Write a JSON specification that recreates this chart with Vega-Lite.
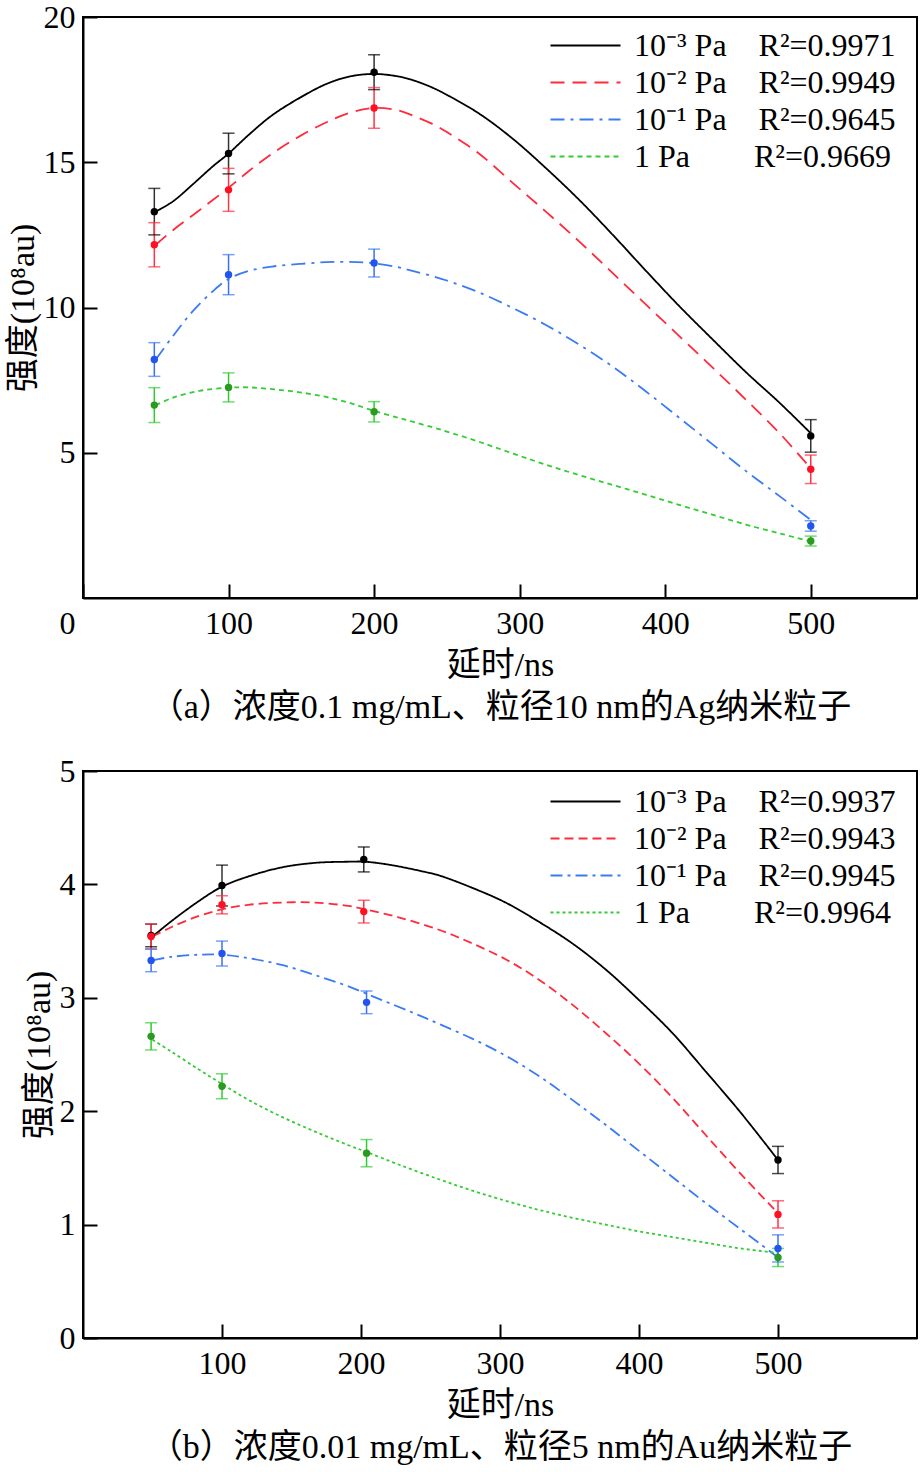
{
  "$schema": "https://vega.github.io/schema/vega-lite/v6.json",
  "background": "white",
  "padding": {"left": 5, "top": 0, "right": 4, "bottom": 5},
  "config": {
    "font": "Liberation Serif, Noto Sans CJK SC",
    "view": {"stroke": "black", "strokeWidth": 2},
    "axis": {
      "grid": false,
      "domainColor": "black",
      "domainWidth": 2,
      "tickColor": "black",
      "tickWidth": 2,
      "tickSize": -14,
      "labelPadding": 24,
      "labelFlush": false,
      "labelFont": "Liberation Serif",
      "labelFontSize": 32,
      "labelColor": "black",
      "titleFont": "Liberation Serif, Noto Sans CJK SC",
      "titleFontSize": 34,
      "titleFontWeight": "normal",
      "titleColor": "black"
    },
    "legend": {
      "orient": "none",
      "title": null,
      "symbolType": "M-2,0H2",
      "symbolSize": 1225,
      "symbolStrokeWidth": 2,
      "labelFont": "Liberation Serif",
      "labelFontSize": 32,
      "labelColor": "black",
      "labelOffset": 30,
      "rowPadding": 2,
      "labelLimit": 400
    }
  },
  "datasets": {
    "fitA": [
      {"k": "k3", "x": 50, "y": 13.3}, {"k": "k3", "x": 62, "y": 13.66}, {"k": "k3", "x": 75, "y": 14.22},
      {"k": "k3", "x": 89, "y": 14.85}, {"k": "k3", "x": 100, "y": 15.3}, {"k": "k3", "x": 114, "y": 15.95},
      {"k": "k3", "x": 130, "y": 16.62}, {"k": "k3", "x": 149, "y": 17.22}, {"k": "k3", "x": 167, "y": 17.69},
      {"k": "k3", "x": 183, "y": 17.95}, {"k": "k3", "x": 200, "y": 18.04}, {"k": "k3", "x": 217, "y": 17.95},
      {"k": "k3", "x": 227, "y": 17.82}, {"k": "k3", "x": 240, "y": 17.57}, {"k": "k3", "x": 250, "y": 17.32},
      {"k": "k3", "x": 272, "y": 16.68}, {"k": "k3", "x": 295, "y": 15.82}, {"k": "k3", "x": 318, "y": 14.8},
      {"k": "k3", "x": 341, "y": 13.7}, {"k": "k3", "x": 364, "y": 12.5}, {"k": "k3", "x": 387, "y": 11.25},
      {"k": "k3", "x": 410, "y": 10.03}, {"k": "k3", "x": 433, "y": 8.88}, {"k": "k3", "x": 456, "y": 7.75},
      {"k": "k3", "x": 479, "y": 6.7}, {"k": "k3", "x": 500, "y": 5.67},
      {"k": "k2", "x": 50, "y": 12.16}, {"k": "k2", "x": 62, "y": 12.67}, {"k": "k2", "x": 80, "y": 13.35},
      {"k": "k2", "x": 100, "y": 14.12}, {"k": "k2", "x": 114, "y": 14.7}, {"k": "k2", "x": 130, "y": 15.3},
      {"k": "k2", "x": 149, "y": 15.9}, {"k": "k2", "x": 167, "y": 16.37}, {"k": "k2", "x": 183, "y": 16.7},
      {"k": "k2", "x": 200, "y": 16.87}, {"k": "k2", "x": 217, "y": 16.78}, {"k": "k2", "x": 227, "y": 16.6},
      {"k": "k2", "x": 240, "y": 16.32}, {"k": "k2", "x": 250, "y": 16.04}, {"k": "k2", "x": 272, "y": 15.3},
      {"k": "k2", "x": 295, "y": 14.3}, {"k": "k2", "x": 318, "y": 13.3}, {"k": "k2", "x": 341, "y": 12.27},
      {"k": "k2", "x": 364, "y": 11.18}, {"k": "k2", "x": 387, "y": 10.09}, {"k": "k2", "x": 410, "y": 9.0},
      {"k": "k2", "x": 433, "y": 7.91}, {"k": "k2", "x": 456, "y": 6.8}, {"k": "k2", "x": 479, "y": 5.65},
      {"k": "k2", "x": 500, "y": 4.46},
      {"k": "k1", "x": 50, "y": 8.21}, {"k": "k1", "x": 62, "y": 9.03}, {"k": "k1", "x": 75, "y": 9.85},
      {"k": "k1", "x": 89, "y": 10.55}, {"k": "k1", "x": 100, "y": 10.98}, {"k": "k1", "x": 114, "y": 11.26},
      {"k": "k1", "x": 130, "y": 11.41}, {"k": "k1", "x": 149, "y": 11.5}, {"k": "k1", "x": 167, "y": 11.56},
      {"k": "k1", "x": 183, "y": 11.57}, {"k": "k1", "x": 200, "y": 11.52}, {"k": "k1", "x": 217, "y": 11.38},
      {"k": "k1", "x": 227, "y": 11.25}, {"k": "k1", "x": 240, "y": 11.08}, {"k": "k1", "x": 250, "y": 10.93},
      {"k": "k1", "x": 272, "y": 10.52}, {"k": "k1", "x": 295, "y": 9.99}, {"k": "k1", "x": 318, "y": 9.4},
      {"k": "k1", "x": 341, "y": 8.72}, {"k": "k1", "x": 364, "y": 7.96}, {"k": "k1", "x": 387, "y": 7.1},
      {"k": "k1", "x": 410, "y": 6.19}, {"k": "k1", "x": 433, "y": 5.27}, {"k": "k1", "x": 456, "y": 4.35},
      {"k": "k1", "x": 479, "y": 3.49}, {"k": "k1", "x": 500, "y": 2.69},
      {"k": "k0", "x": 50, "y": 6.64}, {"k": "k0", "x": 62, "y": 6.9}, {"k": "k0", "x": 80, "y": 7.13},
      {"k": "k0", "x": 100, "y": 7.24}, {"k": "k0", "x": 114, "y": 7.25}, {"k": "k0", "x": 130, "y": 7.19},
      {"k": "k0", "x": 149, "y": 7.08}, {"k": "k0", "x": 167, "y": 6.92}, {"k": "k0", "x": 183, "y": 6.72},
      {"k": "k0", "x": 200, "y": 6.44}, {"k": "k0", "x": 217, "y": 6.2}, {"k": "k0", "x": 227, "y": 6.06},
      {"k": "k0", "x": 240, "y": 5.88}, {"k": "k0", "x": 250, "y": 5.73}, {"k": "k0", "x": 272, "y": 5.38},
      {"k": "k0", "x": 295, "y": 4.98}, {"k": "k0", "x": 318, "y": 4.59}, {"k": "k0", "x": 341, "y": 4.23},
      {"k": "k0", "x": 364, "y": 3.89}, {"k": "k0", "x": 387, "y": 3.55}, {"k": "k0", "x": 410, "y": 3.2},
      {"k": "k0", "x": 433, "y": 2.86}, {"k": "k0", "x": 456, "y": 2.52}, {"k": "k0", "x": 479, "y": 2.22},
      {"k": "k0", "x": 500, "y": 1.94}
    ],
    "ptsA": [
      {"k": "k0", "x": 49, "y": 6.64, "lo": 6.04, "hi": 7.24},
      {"k": "k0", "x": 100, "y": 7.25, "lo": 6.75, "hi": 7.75},
      {"k": "k0", "x": 200, "y": 6.41, "lo": 6.06, "hi": 6.76},
      {"k": "k0", "x": 500, "y": 1.96, "lo": 1.79, "hi": 2.13},
      {"k": "k1", "x": 49, "y": 8.21, "lo": 7.63, "hi": 8.79},
      {"k": "k1", "x": 100, "y": 11.13, "lo": 10.44, "hi": 11.82},
      {"k": "k1", "x": 200, "y": 11.53, "lo": 11.05, "hi": 12.01},
      {"k": "k1", "x": 500, "y": 2.48, "lo": 2.3, "hi": 2.66},
      {"k": "k3", "x": 49, "y": 13.3, "lo": 12.5, "hi": 14.1},
      {"k": "k3", "x": 100, "y": 15.3, "lo": 14.6, "hi": 16.0},
      {"k": "k3", "x": 200, "y": 18.1, "lo": 17.5, "hi": 18.7},
      {"k": "k3", "x": 500, "y": 5.58, "lo": 5.02, "hi": 6.14},
      {"k": "k2", "x": 49, "y": 12.16, "lo": 11.4, "hi": 12.92},
      {"k": "k2", "x": 100, "y": 14.05, "lo": 13.31, "hi": 14.79},
      {"k": "k2", "x": 200, "y": 16.87, "lo": 16.17, "hi": 17.57},
      {"k": "k2", "x": 500, "y": 4.43, "lo": 3.94, "hi": 4.92}
    ],
    "fitB": [
      {"k": "k3", "x": 50, "y": 3.54}, {"k": "k3", "x": 63, "y": 3.67}, {"k": "k3", "x": 83, "y": 3.85},
      {"k": "k3", "x": 100, "y": 3.98}, {"k": "k3", "x": 119, "y": 4.07}, {"k": "k3", "x": 143, "y": 4.15},
      {"k": "k3", "x": 167, "y": 4.19}, {"k": "k3", "x": 191, "y": 4.2}, {"k": "k3", "x": 203, "y": 4.2},
      {"k": "k3", "x": 222, "y": 4.17}, {"k": "k3", "x": 246, "y": 4.11}, {"k": "k3", "x": 256, "y": 4.08},
      {"k": "k3", "x": 280, "y": 3.97}, {"k": "k3", "x": 304, "y": 3.84}, {"k": "k3", "x": 328, "y": 3.67},
      {"k": "k3", "x": 352, "y": 3.48}, {"k": "k3", "x": 376, "y": 3.25}, {"k": "k3", "x": 400, "y": 2.98},
      {"k": "k3", "x": 424, "y": 2.69}, {"k": "k3", "x": 448, "y": 2.35}, {"k": "k3", "x": 473, "y": 1.99},
      {"k": "k3", "x": 500, "y": 1.57},
      {"k": "k2", "x": 50, "y": 3.54}, {"k": "k2", "x": 63, "y": 3.62}, {"k": "k2", "x": 83, "y": 3.72},
      {"k": "k2", "x": 100, "y": 3.78}, {"k": "k2", "x": 119, "y": 3.82}, {"k": "k2", "x": 143, "y": 3.84},
      {"k": "k2", "x": 167, "y": 3.84}, {"k": "k2", "x": 191, "y": 3.81}, {"k": "k2", "x": 203, "y": 3.78},
      {"k": "k2", "x": 227, "y": 3.71}, {"k": "k2", "x": 256, "y": 3.6}, {"k": "k2", "x": 280, "y": 3.48},
      {"k": "k2", "x": 304, "y": 3.34}, {"k": "k2", "x": 328, "y": 3.16}, {"k": "k2", "x": 352, "y": 2.94},
      {"k": "k2", "x": 376, "y": 2.69}, {"k": "k2", "x": 400, "y": 2.42}, {"k": "k2", "x": 424, "y": 2.12},
      {"k": "k2", "x": 448, "y": 1.79}, {"k": "k2", "x": 473, "y": 1.45}, {"k": "k2", "x": 500, "y": 1.1},
      {"k": "k1", "x": 50, "y": 3.33}, {"k": "k1", "x": 63, "y": 3.36}, {"k": "k1", "x": 83, "y": 3.38},
      {"k": "k1", "x": 100, "y": 3.38}, {"k": "k1", "x": 119, "y": 3.35}, {"k": "k1", "x": 143, "y": 3.29},
      {"k": "k1", "x": 167, "y": 3.2}, {"k": "k1", "x": 191, "y": 3.1}, {"k": "k1", "x": 215, "y": 2.98},
      {"k": "k1", "x": 239, "y": 2.86}, {"k": "k1", "x": 256, "y": 2.77}, {"k": "k1", "x": 280, "y": 2.64},
      {"k": "k1", "x": 304, "y": 2.49}, {"k": "k1", "x": 328, "y": 2.31}, {"k": "k1", "x": 352, "y": 2.1},
      {"k": "k1", "x": 376, "y": 1.88}, {"k": "k1", "x": 400, "y": 1.65}, {"k": "k1", "x": 424, "y": 1.42},
      {"k": "k1", "x": 448, "y": 1.19}, {"k": "k1", "x": 473, "y": 0.96}, {"k": "k1", "x": 498, "y": 0.73},
      {"k": "k0", "x": 50, "y": 2.63}, {"k": "k0", "x": 63, "y": 2.53}, {"k": "k0", "x": 83, "y": 2.37},
      {"k": "k0", "x": 100, "y": 2.24}, {"k": "k0", "x": 119, "y": 2.1}, {"k": "k0", "x": 143, "y": 1.95},
      {"k": "k0", "x": 167, "y": 1.82}, {"k": "k0", "x": 191, "y": 1.7}, {"k": "k0", "x": 204, "y": 1.64},
      {"k": "k0", "x": 227, "y": 1.53}, {"k": "k0", "x": 256, "y": 1.4}, {"k": "k0", "x": 280, "y": 1.3},
      {"k": "k0", "x": 304, "y": 1.21}, {"k": "k0", "x": 328, "y": 1.13}, {"k": "k0", "x": 352, "y": 1.06},
      {"k": "k0", "x": 376, "y": 1.0}, {"k": "k0", "x": 400, "y": 0.94}, {"k": "k0", "x": 424, "y": 0.89},
      {"k": "k0", "x": 448, "y": 0.84}, {"k": "k0", "x": 473, "y": 0.79}, {"k": "k0", "x": 500, "y": 0.75}
    ],
    "ptsB": [
      {"k": "k0", "x": 49, "y": 2.66, "lo": 2.54, "hi": 2.78},
      {"k": "k0", "x": 100, "y": 2.22, "lo": 2.11, "hi": 2.33},
      {"k": "k0", "x": 204, "y": 1.63, "lo": 1.51, "hi": 1.75},
      {"k": "k0", "x": 500, "y": 0.71, "lo": 0.63, "hi": 0.79},
      {"k": "k1", "x": 49, "y": 3.33, "lo": 3.23, "hi": 3.43},
      {"k": "k1", "x": 100, "y": 3.39, "lo": 3.28, "hi": 3.5},
      {"k": "k1", "x": 204, "y": 2.96, "lo": 2.86, "hi": 3.06},
      {"k": "k1", "x": 500, "y": 0.79, "lo": 0.67, "hi": 0.91},
      {"k": "k3", "x": 49, "y": 3.55, "lo": 3.45, "hi": 3.65},
      {"k": "k3", "x": 100, "y": 3.99, "lo": 3.81, "hi": 4.17},
      {"k": "k3", "x": 202, "y": 4.22, "lo": 4.11, "hi": 4.33},
      {"k": "k3", "x": 500, "y": 1.57, "lo": 1.45, "hi": 1.69},
      {"k": "k2", "x": 49, "y": 3.54, "lo": 3.43, "hi": 3.65},
      {"k": "k2", "x": 100, "y": 3.82, "lo": 3.74, "hi": 3.9},
      {"k": "k2", "x": 202, "y": 3.76, "lo": 3.66, "hi": 3.86},
      {"k": "k2", "x": 500, "y": 1.09, "lo": 0.97, "hi": 1.21}
    ]
  },
  "spacing": 29,
  "vconcat": [
    {
      "width": 834,
      "height": 581,
      "encoding": {
        "x": {
          "field": "x",
          "type": "quantitative",
          "scale": {"domain": [0, 573], "nice": false, "zero": false},
          "axis": {
            "values": [0, 100, 200, 300, 400, 500],
            "labelOffset": {"condition": {"test": "datum.value === 0", "value": -16}, "value": 0},
            "title": ["延时/ns", "（a）浓度0.1 mg/mL、粒径10 nm的Ag纳米粒子"],
            "titleLineHeight": 42,
            "titlePadding": 9
          }
        },
        "y": {
          "field": "y",
          "type": "quantitative",
          "scale": {"domain": [0, 20], "nice": false},
          "axis": {"values": [5, 10, 15, 20], "title": "强度(10⁸au)", "titlePadding": 3, "labelPadding": 22}
        }
      },
      "layer": [
        {
          "data": {"name": "fitA"},
          "mark": {"type": "line", "interpolate": "catmull-rom", "strokeWidth": 1.8},
          "encoding": {
            "color": {
              "field": "k",
              "type": "nominal",
              "scale": {"domain": ["k3", "k2", "k1", "k0"], "range": ["#000000", "#ff2a3c", "#3a7af5", "#33cc33"]},
              "legend": {
                "legendX": 484,
                "legendY": 10,
                "labelExpr": "datum.value == 'k3' ? '10⁻³ Pa\u00a0\u00a0\u00a0\u00a0R²=0.9971' : datum.value == 'k2' ? '10⁻² Pa\u00a0\u00a0\u00a0\u00a0R²=0.9949' : datum.value == 'k1' ? '10⁻¹ Pa\u00a0\u00a0\u00a0\u00a0R²=0.9645' : '1 Pa\u2002\u2002\u00a0\u00a0\u00a0\u00a0R²=0.9669'"
              }
            },
            "strokeDash": {
              "field": "k",
              "type": "nominal",
              "scale": {"domain": ["k3", "k2", "k1", "k0"], "range": [[1, 0], [14, 8], [14, 6, 3, 6], [5, 4]]},
              "legend": {
                "legendX": 484,
                "legendY": 10,
                "labelExpr": "datum.value == 'k3' ? '10⁻³ Pa\u00a0\u00a0\u00a0\u00a0R²=0.9971' : datum.value == 'k2' ? '10⁻² Pa\u00a0\u00a0\u00a0\u00a0R²=0.9949' : datum.value == 'k1' ? '10⁻¹ Pa\u00a0\u00a0\u00a0\u00a0R²=0.9645' : '1 Pa\u2002\u2002\u00a0\u00a0\u00a0\u00a0R²=0.9669'"
              }
            }
          }
        },
        {
          "data": {"name": "ptsA"},
          "mark": {"type": "rule", "strokeWidth": 1.5},
          "encoding": {
            "y": {"field": "lo", "type": "quantitative"},
            "y2": {"field": "hi"},
            "stroke": {"field": "k", "type": "nominal", "scale": {"domain": ["k3", "k2", "k1", "k0"], "range": ["#333333", "#ff3344", "#3b6ff5", "#2ecc2e"]}, "legend": null}
          }
        },
        {
          "data": {"name": "ptsA"},
          "mark": {"type": "tick", "orient": "horizontal", "size": 12, "thickness": 1.5},
          "encoding": {
            "y": {"field": "lo", "type": "quantitative"},
            "color": {"field": "k", "type": "nominal", "legend": null}
          }
        },
        {
          "data": {"name": "ptsA"},
          "mark": {"type": "tick", "orient": "horizontal", "size": 12, "thickness": 1.5},
          "encoding": {
            "y": {"field": "hi", "type": "quantitative"},
            "color": {"field": "k", "type": "nominal", "legend": null}
          }
        },
        {
          "data": {"name": "ptsA"},
          "mark": {"type": "point", "shape": "circle", "filled": true, "size": 55, "opacity": 1},
          "encoding": {
            "fill": {"field": "k", "type": "nominal", "scale": {"domain": ["k3", "k2", "k1", "k0"], "range": ["#000000", "#ff1022", "#2255ee", "#2a9a20"]}, "legend": null}
          }
        }
      ]
    },
    {
      "width": 834,
      "height": 567,
      "encoding": {
        "x": {
          "field": "x",
          "type": "quantitative",
          "scale": {"domain": [0, 600], "nice": false, "zero": false},
          "axis": {
            "values": [100, 200, 300, 400, 500],
            "title": ["延时/ns", "（b）浓度0.01 mg/mL、粒径5 nm的Au纳米粒子"],
            "titleLineHeight": 42,
            "titlePadding": 9
          }
        },
        "y": {
          "field": "y",
          "type": "quantitative",
          "scale": {"domain": [0, 5], "nice": false},
          "axis": {"values": [0, 1, 2, 3, 4, 5], "title": "强度(10⁸au)", "titlePadding": 3, "labelPadding": 22}
        }
      },
      "layer": [
        {
          "data": {"name": "fitB"},
          "mark": {"type": "line", "interpolate": "catmull-rom", "strokeWidth": 1.8},
          "encoding": {
            "color": {
              "field": "k",
              "type": "nominal",
              "scale": {"domain": ["k3", "k2", "k1", "k0"], "range": ["#000000", "#ff2a3c", "#3a7af5", "#33cc33"]},
              "legend": {
                "legendX": 484,
                "legendY": 12,
                "labelExpr": "datum.value == 'k3' ? '10⁻³ Pa\u00a0\u00a0\u00a0\u00a0R²=0.9937' : datum.value == 'k2' ? '10⁻² Pa\u00a0\u00a0\u00a0\u00a0R²=0.9943' : datum.value == 'k1' ? '10⁻¹ Pa\u00a0\u00a0\u00a0\u00a0R²=0.9945' : '1 Pa\u2002\u2002\u00a0\u00a0\u00a0\u00a0R²=0.9964'"
              }
            },
            "strokeDash": {
              "field": "k",
              "type": "nominal",
              "scale": {"domain": ["k3", "k2", "k1", "k0"], "range": [[1, 0], [9, 5], [12, 5, 3, 5], [3, 3]]},
              "legend": {
                "legendX": 484,
                "legendY": 12,
                "labelExpr": "datum.value == 'k3' ? '10⁻³ Pa\u00a0\u00a0\u00a0\u00a0R²=0.9937' : datum.value == 'k2' ? '10⁻² Pa\u00a0\u00a0\u00a0\u00a0R²=0.9943' : datum.value == 'k1' ? '10⁻¹ Pa\u00a0\u00a0\u00a0\u00a0R²=0.9945' : '1 Pa\u2002\u2002\u00a0\u00a0\u00a0\u00a0R²=0.9964'"
              }
            }
          }
        },
        {
          "data": {"name": "ptsB"},
          "mark": {"type": "rule", "strokeWidth": 1.5},
          "encoding": {
            "y": {"field": "lo", "type": "quantitative"},
            "y2": {"field": "hi"},
            "stroke": {"field": "k", "type": "nominal", "scale": {"domain": ["k3", "k2", "k1", "k0"], "range": ["#333333", "#ff3344", "#3b6ff5", "#2ecc2e"]}, "legend": null}
          }
        },
        {
          "data": {"name": "ptsB"},
          "mark": {"type": "tick", "orient": "horizontal", "size": 12, "thickness": 1.5},
          "encoding": {
            "y": {"field": "lo", "type": "quantitative"},
            "color": {"field": "k", "type": "nominal", "legend": null}
          }
        },
        {
          "data": {"name": "ptsB"},
          "mark": {"type": "tick", "orient": "horizontal", "size": 12, "thickness": 1.5},
          "encoding": {
            "y": {"field": "hi", "type": "quantitative"},
            "color": {"field": "k", "type": "nominal", "legend": null}
          }
        },
        {
          "data": {"name": "ptsB"},
          "mark": {"type": "point", "shape": "circle", "filled": true, "size": 55, "opacity": 1},
          "encoding": {
            "fill": {"field": "k", "type": "nominal", "scale": {"domain": ["k3", "k2", "k1", "k0"], "range": ["#000000", "#ff1022", "#2255ee", "#2a9a20"]}, "legend": null}
          }
        }
      ]
    }
  ],
  "resolve": {
    "scale": {"x": "independent", "y": "independent", "color": "independent", "strokeDash": "independent", "stroke": "independent", "fill": "independent"},
    "legend": {"color": "independent", "strokeDash": "independent"}
  }
}
